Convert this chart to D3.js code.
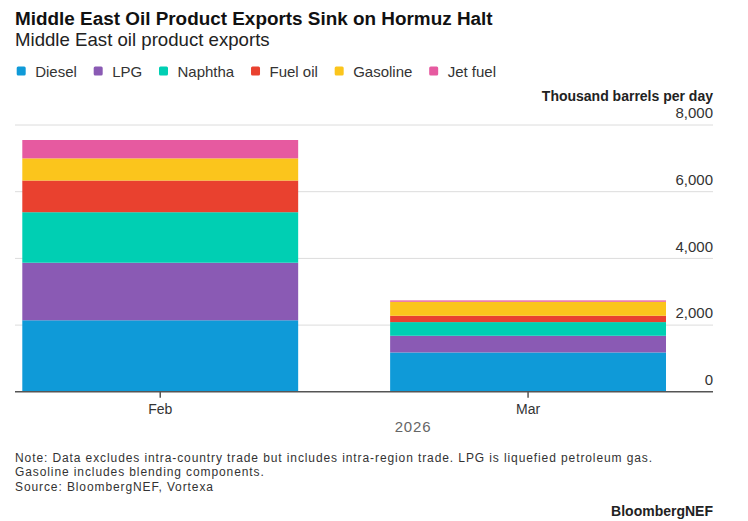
<!DOCTYPE html>
<meta charset="utf-8">
<head>
  <title>Middle East oil product exports</title>
</head>
<style>
  body { margin: 0; background: #fff; }
  svg { font-family: "Liberation Sans", Arial, sans-serif; display: block; }
</style>
<body>
<svg width="748" height="521"></svg>
<script src="https://cdn.jsdelivr.net/npm/d3@7"></script>
<script>

// data (thousand barrels per day)
var months = ["Feb", "Mar"];
var products = ["Diesel", "LPG", "Naphtha", "Fuel oil", "Gasoline", "Jet fuel"];
var colors = ["#0f9ad8", "#8a5ab4", "#00cfb3", "#e9412f", "#fbc51c", "#e65aa0"];
var diesel   = [2145, 1180];
var lpg      = [1725, 500];
var naphtha  = [1515, 410];
var fuelOil  = [950, 190];
var gasoline = [665, 420];
var jetFuel  = [550, 40];
var yTicks = [0, 2000, 4000, 6000, 8000];

var series = [diesel, lpg, naphtha, fuelOil, gasoline, jetFuel];
var rows = months.map(function(m, i) {
  var r = { month: m };
  products.forEach(function(p, j) { r[p] = series[j][i]; });
  return r;
});

var svg = d3.select("svg");

var x = d3.scaleBand().domain(months).range([22.3, 666]).paddingInner(0.25).paddingOuter(0);
var y = d3.scaleLinear().domain([0, 8000]).range([391.8, 125]);
var color = d3.scaleOrdinal().domain(products).range(colors);

// fit a text element to a given width
function fit(sel, w) {
  var cur = parseFloat(sel.attr("font-size"));
  var len = sel.node().getComputedTextLength();
  sel.attr("font-size", cur * w / len);
}
// stretch with letter spacing instead of size
function spread(sel, w) {
  var len = sel.node().getComputedTextLength();
  var n = sel.text().length;
  sel.attr("letter-spacing", (w - len) / n);
}

// title + subtitle
svg.append("text").attr("x", 15).attr("y", 25)
  .attr("font-size", 18.5).attr("font-weight", "bold").attr("fill", "#111")
  .text("Middle East Oil Product Exports Sink on Hormuz Halt")
  .call(fit, 478);
svg.append("text").attr("x", 15).attr("y", 46.3)
  .attr("font-size", 18.5).attr("fill", "#222")
  .text("Middle East oil product exports")
  .call(fit, 255);

// legend
var lx = 16.7;
products.forEach(function(p) {
  var g = svg.append("g").attr("transform", "translate(" + lx + ",0)");
  g.append("rect").attr("x", 0).attr("y", 66.5).attr("width", 9).attr("height", 9)
    .attr("rx", 1.5).attr("fill", color(p));
  var t = g.append("text").attr("x", 18.5).attr("y", 76.5)
    .attr("font-size", 15).attr("fill", "#333").text(p);
  lx += 18.5 + t.node().getComputedTextLength() + 16.8;
});

// gridlines + y labels
svg.append("g").selectAll("line").data(yTicks.filter(function(d) { return d > 0; }))
  .enter().append("line")
  .attr("x1", 15).attr("x2", 713)
  .attr("y1", function(d) { return y(d); }).attr("y2", function(d) { return y(d); })
  .attr("stroke", "#dcdcdc").attr("stroke-width", 1);

svg.append("g").selectAll("text").data(yTicks)
  .enter().append("text")
  .attr("x", 713).attr("y", function(d) { return y(d) - 6.8; })
  .attr("text-anchor", "end").attr("font-size", 15).attr("fill", "#333")
  .text(d3.format(","));

svg.append("text").attr("x", 713).attr("y", 100.7)
  .attr("text-anchor", "end").attr("font-size", 14).attr("fill", "#222")
  .attr("font-weight", 600)
  .text("Thousand barrels per day");

// stacked bars
var stack = d3.stack().keys(products)(rows);
svg.append("g").selectAll("g").data(stack)
  .enter().append("g").attr("fill", function(d) { return color(d.key); })
  .selectAll("rect").data(function(d) { return d; })
  .enter().append("rect")
  .attr("x", function(d) { return x(d.data.month); })
  .attr("width", x.bandwidth())
  .attr("y", function(d) { return y(d[1]); })
  .attr("height", function(d) { return y(d[0]) - y(d[1]); });

// baseline + ticks
svg.append("line").attr("x1", 15).attr("x2", 713)
  .attr("y1", y(0)).attr("y2", y(0))
  .attr("stroke", "#555").attr("stroke-width", 1.5);

var xt = svg.append("g").selectAll("g").data(months).enter().append("g")
  .attr("transform", function(d) { return "translate(" + (x(d) + x.bandwidth() / 2) + ",0)"; });
xt.append("line").attr("y1", y(0)).attr("y2", y(0) + 6).attr("stroke", "#555").attr("stroke-width", 1.5);
xt.append("text").attr("y", 414).attr("text-anchor", "middle")
  .attr("font-size", 14).attr("fill", "#333").text(function(d) { return d; });

svg.append("text").attr("x", 413).attr("y", 432).attr("text-anchor", "middle")
  .attr("font-size", 15).attr("letter-spacing", 0.8).attr("fill", "#666").text("2026");

// footer
var footFs = 12;
var note = svg.append("text").attr("x", 15).attr("y", 462.3)
  .attr("font-size", footFs).attr("fill", "#333")
  .text("Note: Data excludes intra-country trade but includes intra-region trade. LPG is liquefied petroleum gas.");
note.call(spread, 638);
var ls = note.attr("letter-spacing");
svg.append("text").attr("x", 15).attr("y", 476.4)
  .attr("font-size", footFs).attr("letter-spacing", ls).attr("fill", "#333")
  .text("Gasoline includes blending components.");
svg.append("text").attr("x", 15).attr("y", 490.5)
  .attr("font-size", footFs).attr("letter-spacing", ls).attr("fill", "#333")
  .text("Source: BloombergNEF, Vortexa");

svg.append("text").attr("x", 713).attr("y", 515.5).attr("text-anchor", "end")
  .attr("font-size", 14).attr("font-weight", "bold").attr("fill", "#222")
  .text("BloombergNEF");

</script>
</body>
</html>
